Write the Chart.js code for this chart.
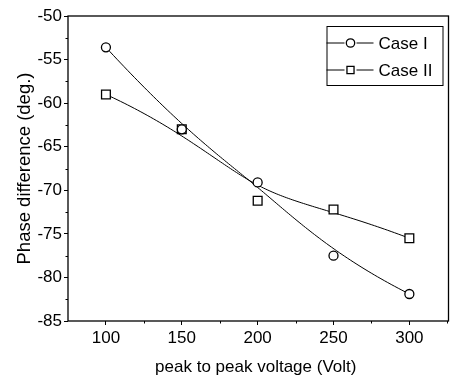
<!DOCTYPE html>
<html>
<head>
<meta charset="utf-8">
<script src="https://cdn.jsdelivr.net/npm/chart.js@4/dist/chart.umd.min.js"></script>
<style>
  html, body { margin: 0; padding: 0; background: #fff; }
  #wrap { width: 451px; height: 383px; }
</style>
</head>
<body>
<div id="wrap"><canvas id="phaseChart"></canvas></div>
<script>
// values
var voltage = [100, 150, 200, 250, 300]
var caseI = [-53.6, -63.0, -69.1, -77.5, -81.9]
var caseII = [-59.0, -63.0, -71.2, -72.2, -75.5]
var xTicks = [100, 150, 200, 250, 300]
var yTicks = [-50, -55, -60, -65, -70, -75, -80, -85]

var FONT = "'Liberation Sans', Arial, Helvetica, sans-serif"

function toPoints(ys) {
  return voltage.map((v, i) => ({ x: v, y: ys[i] }))
}

// clamped cubic B-spline through the data points used as control points
// (the original plot connects points this way)
function bsplinePath(ctx, pts) {
  var n = pts.length, p = Math.min(3, n - 1)
  var knots = []
  for (var i = 0; i <= p; i++) knots.push(0)
  for (var i = 1; i <= n - p - 1; i++) knots.push(i)
  for (var i = 0; i <= p; i++) knots.push(n - p)
  var umax = n - p, steps = 120
  for (var s = 0; s <= steps; s++) {
    var u = umax * s / steps
    var k = p
    while (k < n - 1 && u >= knots[k + 1]) k++
    var d = []
    for (var j = 0; j <= p; j++) d.push({ x: pts[j + k - p].x, y: pts[j + k - p].y })
    for (var r = 1; r <= p; r++) {
      for (var j = p; j >= r; j--) {
        var den = knots[j + 1 + k - r] - knots[j + k - p]
        var alpha = den ? (u - knots[j + k - p]) / den : 0
        d[j] = { x: (1 - alpha) * d[j - 1].x + alpha * d[j].x, y: (1 - alpha) * d[j - 1].y + alpha * d[j].y }
      }
    }
    if (s == 0) ctx.moveTo(d[p].x, d[p].y)
    else ctx.lineTo(d[p].x, d[p].y)
  }
}

var splines = {
  id: 'splines',
  beforeDatasetsDraw: function(chart) {
    var ctx = chart.ctx
    var xs = chart.scales.x, ys = chart.scales.y
    ctx.save()
    ctx.strokeStyle = '#000'
    ctx.lineWidth = 1
    chart.data.datasets.forEach(ds => {
      var pts = ds.data.map(d => ({ x: xs.getPixelForValue(d.x), y: ys.getPixelForValue(d.y) }))
      ctx.beginPath()
      bsplinePath(ctx, pts)
      ctx.stroke()
    })
    ctx.restore()
  }
}

// frame, minor ticks and the line+marker legend
var extras = {
  id: 'extras',
  afterDraw: function(chart) {
    var ctx = chart.ctx
    var a = chart.chartArea
    var xs = chart.scales.x, ys = chart.scales.y
    ctx.save()
    ctx.strokeStyle = '#000'
    ctx.lineWidth = 1.3
    ctx.strokeRect(a.left, a.top, a.right - a.left + 5, a.bottom - a.top)

    // minor ticks
    ctx.lineWidth = 1
    ctx.beginPath()
    for (var i = 0; i < xTicks.length - 1; i++) {
      var px = Math.round(xs.getPixelForValue((xTicks[i] + xTicks[i + 1]) / 2)) + 0.5
      ctx.moveTo(px, a.bottom); ctx.lineTo(px, a.bottom + 2.5)
    }
    var pmid = Math.round(xs.getPixelForValue(xTicks[xTicks.length - 1] + 25)) + 0.5
    ctx.moveTo(pmid, a.bottom); ctx.lineTo(pmid, a.bottom + 2.5)
    for (var j = 0; j < yTicks.length - 1; j++) {
      var py = Math.round(ys.getPixelForValue((yTicks[j] + yTicks[j + 1]) / 2)) + 0.5
      ctx.moveTo(a.left, py); ctx.lineTo(a.left - 2.5, py)
    }
    ctx.stroke()

    // legend
    var bx = a.right - 117, by = a.top + 10, bw = 116, bh = 59
    ctx.fillStyle = '#fff'
    ctx.fillRect(bx, by, bw, bh)
    ctx.strokeRect(bx + 0.5, by + 0.5, bw, bh)
    ctx.font = '17px ' + FONT
    ctx.textBaseline = 'middle'
    chart.data.datasets.forEach((ds, k) => {
      var cy = by + 17 + k * 27
      ctx.beginPath()
      ctx.moveTo(bx, cy); ctx.lineTo(bx + 18, cy)
      ctx.moveTo(bx + 30, cy); ctx.lineTo(bx + 47, cy)
      ctx.strokeStyle = '#000'
      ctx.lineWidth = 1
      ctx.stroke()
      ctx.lineWidth = 1.3
      ctx.fillStyle = '#fff'
      Chart.helpers.drawPoint(ctx, {
        pointStyle: ds.pointStyle, radius: ds.pointStyle == 'rect' ? 5 : 4.2,
        borderWidth: 1.3
      }, bx + 24, cy)
      ctx.fillStyle = '#000'
      ctx.fillText(ds.label, bx + 52, cy + 1)
    })
    ctx.restore()
  }
}

var ctx = document.getElementById('phaseChart').getContext('2d')

var chart = new Chart(ctx, {
  type: 'line',
  data: {
    datasets: [{
      label: 'Case I',
      data: toPoints(caseI),
      showLine: false,
      borderColor: '#000',
      backgroundColor: '#fff',
      pointStyle: 'circle',
      pointRadius: 4.5,
      pointBorderWidth: 1.3,
      pointBackgroundColor: '#fff',
      pointBorderColor: '#000'
    }, {
      label: 'Case II',
      data: toPoints(caseII),
      showLine: false,
      borderColor: '#000',
      backgroundColor: '#fff',
      pointStyle: 'rect',
      pointRadius: 6.2,
      pointBorderWidth: 1.3,
      pointBackgroundColor: '#fff',
      pointBorderColor: '#000'
    }]
  },
  plugins: [splines, extras],
  options: {
    responsive: true,
    maintainAspectRatio: false,
    animation: false,
    devicePixelRatio: 1,
    layout: { padding: { top: 16, right: 0, left: 0, bottom: 0 } },
    plugins: {
      legend: { display: false },
      tooltip: { enabled: false }
    },
    scales: {
      x: {
        type: 'linear',
        min: 75,
        max: 322.5,
        afterBuildTicks: function(s) { s.ticks = xTicks.map(v => ({ value: v })) },
        afterFit: function(s) { s.height = 62 },
        border: { display: false },
        grid: { drawOnChartArea: false, tickLength: 4, color: '#000', tickWidth: 1 },
        ticks: { color: '#000', padding: 3, maxRotation: 0, font: { family: FONT, size: 17 } },
        title: {
          display: true,
          text: 'peak to peak voltage (Volt)',
          color: '#000',
          padding: { top: 0, bottom: 5 },
          font: { family: FONT, size: 17 }
        }
      },
      y: {
        min: -85,
        max: -50,
        afterBuildTicks: function(s) { s.ticks = yTicks.map(v => ({ value: v })) },
        afterFit: function(s) { s.width = 68 },
        border: { display: false },
        grid: { drawOnChartArea: false, tickLength: 4, color: '#000', tickWidth: 1 },
        ticks: { color: '#000', padding: 2, font: { family: FONT, size: 17 } },
        title: {
          display: true,
          text: 'Phase difference (deg.)',
          color: '#000',
          padding: { top: 14, bottom: 0 },
          font: { family: FONT, size: 18.5 }
        }
      }
    }
  }
})
</script>
</body>
</html>
